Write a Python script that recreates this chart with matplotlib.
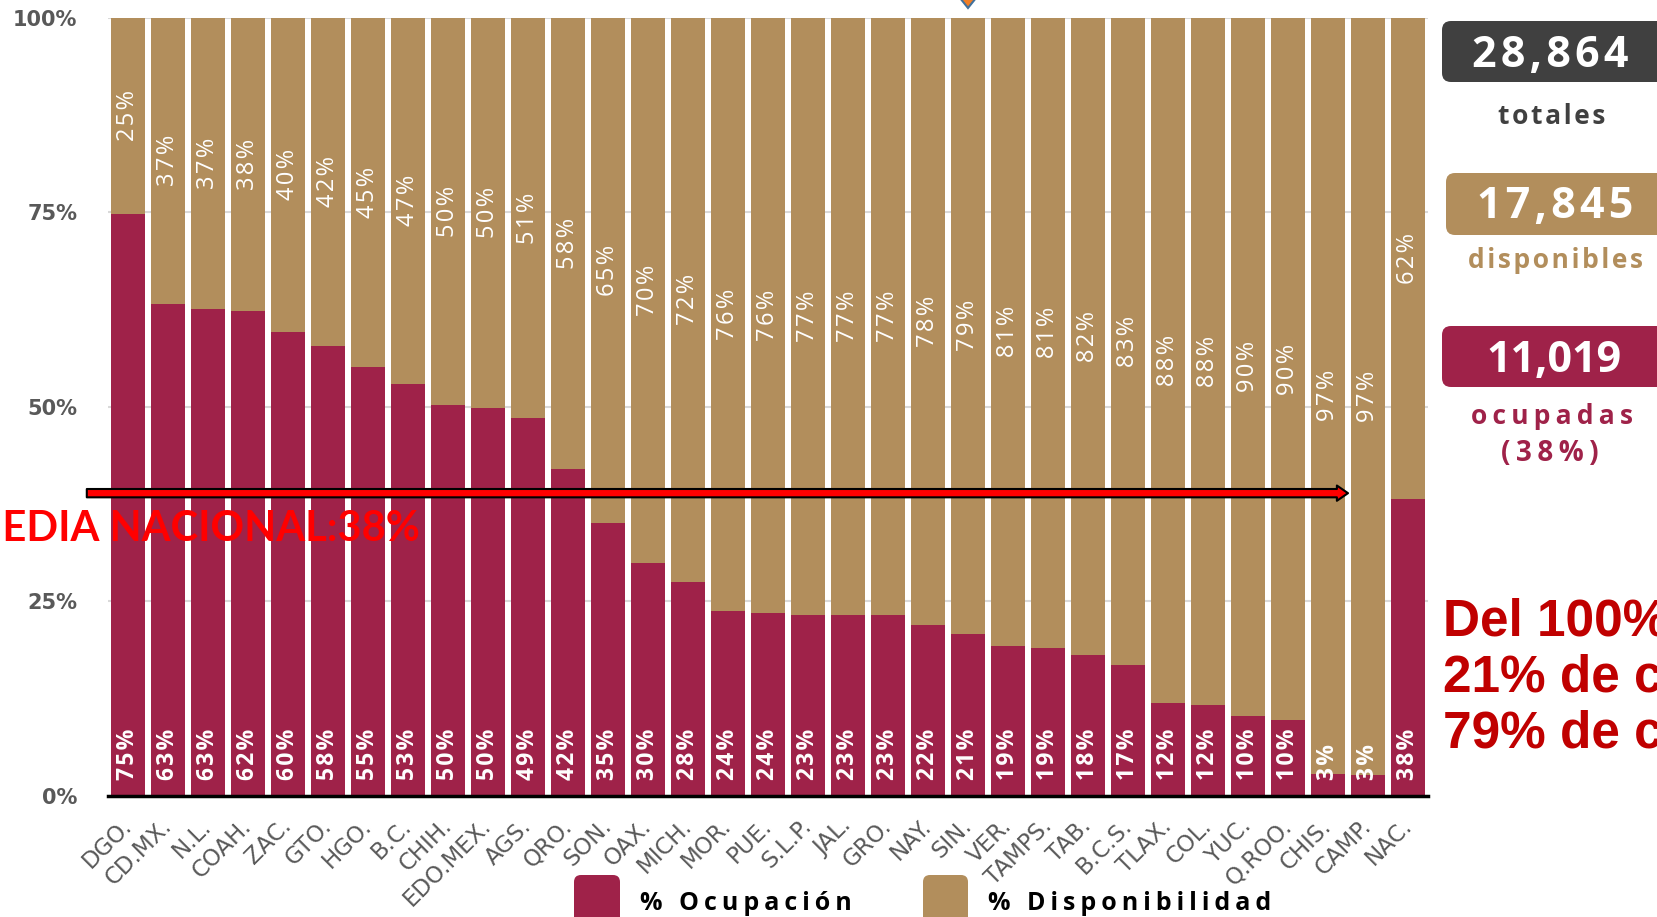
import matplotlib
matplotlib.use("Agg")
import matplotlib.pyplot as plt
from matplotlib.patches import FancyBboxPatch, FancyArrowPatch, Polygon
from matplotlib.transforms import IdentityTransform
import numpy as np

# datos (% de camas por entidad)
estados = ['DGO.', 'CD.MX.', 'N.L.', 'COAH.', 'ZAC.', 'GTO.', 'HGO.', 'B.C.', 'CHIH.',
           'EDO.MEX.', 'AGS.', 'QRO.', 'SON.', 'OAX.', 'MICH.', 'MOR.', 'PUE.', 'S.L.P.',
           'JAL.', 'GRO.', 'NAY.', 'SIN.', 'VER.', 'TAMPS.', 'TAB.', 'B.C.S.', 'TLAX.',
           'COL.', 'YUC.', 'Q.ROO.', 'CHIS.', 'CAMP.', 'NAC.']
ocupacion = np.array([74.8, 63.2, 62.6, 62.3, 59.6, 57.8, 55.1, 52.9, 50.2, 49.9, 48.5,
                      42.0, 35.1, 29.9, 27.5, 23.8, 23.5, 23.2, 23.2, 23.2, 22.0, 20.8,
                      19.3, 19.0, 18.1, 16.8, 11.9, 11.7, 10.3, 9.7, 2.8, 2.7, 38.2])
disponibilidad = 100 - ocupacion
etiq_ocup = [75, 63, 63, 62, 60, 58, 55, 53, 50, 50, 49, 42, 35, 30, 28, 24, 24, 23, 23,
             23, 22, 21, 19, 19, 18, 17, 12, 12, 10, 10, 3, 3, 38]
etiq_disp = [25, 37, 37, 38, 40, 42, 45, 47, 50, 50, 51, 58, 65, 70, 72, 76, 76, 77, 77,
             77, 78, 79, 81, 81, 82, 83, 88, 88, 90, 90, 97, 97, 62]
yticks = [0, 25, 50, 75, 100]

camas_totales = '28,864'
camas_disponibles = '17,845'
camas_ocupadas = '11,019'
media_nacional = 38
media_linea_y = 38.9   # altura a la que se dibuja la flecha

GUINDA = '#9F2249'
DORADO = '#B28E5C'
GRIS = '#404040'
W, H = 1657, 917


def spread(s, gap='\u200a'):
    return gap.join(s)


def fx(px):
    return px / W


def fy(py):
    return 1 - py / H


def rbox(x0, y0, x1, y1, color, r=9):
    p = FancyBboxPatch((x0, H - y1), x1 - x0, y1 - y0,
                       boxstyle=f'round,pad=0,rounding_size={r}',
                       transform=IdentityTransform(), fc=color, ec='none')
    fig.add_artist(p)


fig = plt.figure(figsize=(W / 100, H / 100), dpi=100)
ax = fig.add_axes([fx(108), 1 - 796 / H, 1320 / W, (796 - 17.5) / H])

x = np.arange(len(estados))
ax.bar(x, ocupacion, width=0.85, color=GUINDA, zorder=2)
ax.bar(x, disponibilidad, bottom=ocupacion, width=0.85, color=DORADO, zorder=2)

for i in range(len(estados)):
    ax.text(x[i], 2.0, spread(f'{etiq_ocup[i]}%'), rotation=90, ha='center', va='bottom',
            color='white', fontsize=16.5, weight='bold', family=['Open Sans', 'DejaVu Sans'],
            zorder=3)
    ax.text(x[i], ocupacion[i] + disponibilidad[i] / 2, spread(f'{etiq_disp[i]}%'),
            rotation=90, ha='center', va='center', color='white', fontsize=17,
            weight='medium', family=['Open Sans', 'DejaVu Sans'], zorder=3)

ax.set_xlim(-0.5, len(estados) - 0.5)
ax.set_ylim(0, 100)
ax.set_yticks(yticks)
ax.set_yticklabels([f'{v}%' for v in yticks], fontsize=15, weight='bold', color='#595959')
ax.set_xticks(x)
ax.set_xticklabels(estados, rotation=45, ha='right', va='center', rotation_mode='anchor',
                   fontsize=16.5, color='#595959')
ax.tick_params(axis='y', length=0, pad=22)
ax.tick_params(axis='x', length=0, pad=19)
ax.yaxis.grid(True, color='#D9D9D9', lw=1.5, zorder=0)
ax.set_axisbelow(True)
for s in ['top', 'right', 'left']:
    ax.spines[s].set_visible(False)
ax.spines['bottom'].set_color('black')
ax.spines['bottom'].set_linewidth(2.5)
ax.spines['bottom'].set_zorder(4)

# flecha de la media nacional
flecha = FancyArrowPatch((-1.03, media_linea_y), (30.5, media_linea_y),
                         arrowstyle='simple,head_length=0.4,head_width=0.55,tail_width=0.3',
                         mutation_scale=20, fc='#FF0000', ec='black', lw=1.5,
                         shrinkA=0, shrinkB=0, clip_on=False, zorder=5)
ax.add_patch(flecha)
fig.text(fx(420), fy(541), f'MEDIA NACIONAL:{media_nacional}%', ha='right', va='baseline',
         color='#FF0000', fontsize=30, weight='bold', family=['Lato', 'DejaVu Sans'], zorder=6)

# panel derecho
rbox(1442, 21, 1680, 82, GRIS)
rbox(1446, 173, 1680, 235, DORADO)
rbox(1442, 326, 1680, 387, GUINDA)
panel_font = ['Open Sans', 'DejaVu Sans']
fig.text(fx(1550), fy(67), spread(camas_totales), ha='center', va='baseline', color='white',
         fontsize=31, weight='bold', family=panel_font)
fig.text(fx(1552), fy(124), spread('totales'), ha='center', va='baseline', color=GRIS,
         fontsize=19, weight='bold', family=panel_font)
fig.text(fx(1555), fy(218), spread(camas_disponibles), ha='center', va='baseline',
         color='white', fontsize=31, weight='bold', family=panel_font)
fig.text(fx(1555), fy(268), spread('disponibles'), ha='center', va='baseline', color=DORADO,
         fontsize=19, weight='bold', family=panel_font)
fig.text(fx(1554), fy(372), camas_ocupadas, ha='center', va='baseline', color='white',
         fontsize=31, weight='bold', family=panel_font)
fig.text(fx(1552), fy(424), spread('ocupadas', '\u2009'), ha='center', va='baseline',
         color=GUINDA, fontsize=19, weight='bold', family=panel_font)
fig.text(fx(1550), fy(461), spread(f'({media_nacional}%)', '\u2009'), ha='center',
         va='baseline', color=GUINDA, fontsize=20, weight='bold', family=panel_font)

# nota en rojo (cortada en el borde)
nota = ['Del 100% de camas', '21% de camas ocupadas', '79% de camas disponibles']
for linea, base in zip(nota, [635, 692, 748]):
    fig.text(fx(1443), fy(base), linea, ha='left', va='baseline', color='#C00000',
             fontsize=37, weight='bold', family=['Liberation Sans', 'DejaVu Sans'])

# leyenda
rbox(574, 875, 620, 935, GUINDA, r=7)
rbox(923, 875, 968, 935, DORADO, r=7)
fig.text(fx(640), fy(910), spread('% Ocupación', '\u2009'), ha='left', va='baseline',
         color='black', fontsize=18, weight='bold', family=panel_font)
fig.text(fx(988), fy(910), spread('% Disponibilidad', '\u2009'), ha='left', va='baseline',
         color='black', fontsize=18, weight='bold', family=panel_font)

# punta de flecha naranja cortada arriba
fig.add_artist(Polygon([[960, H + 2], [976, H + 2], [968, H - 8]], closed=True,
                       transform=IdentityTransform(), fc='#F07E26', ec='#41719C', lw=1.5))

fig.savefig('out.png', dpi=100)
